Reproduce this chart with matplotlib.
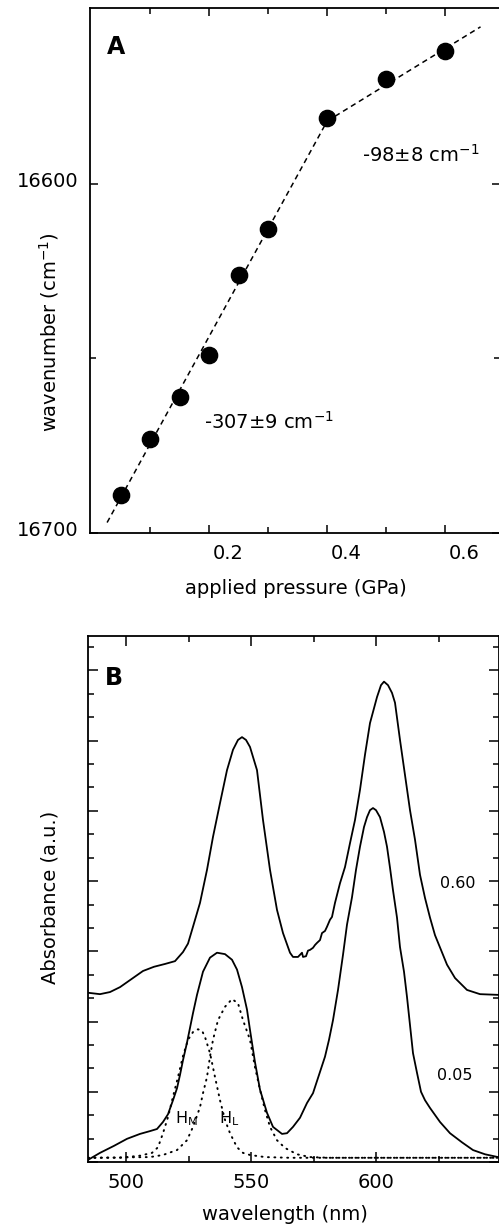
import matplotlib
matplotlib.use("Agg")
import matplotlib.pyplot as plt
import matplotlib.transforms as mtrans
from matplotlib.ticker import MultipleLocator, FixedLocator, NullFormatter

plt.rcParams['font.family'] = ['DejaVu Sans']
plt.rcParams['mathtext.fontset'] = 'dejavusans'

# ---------------- Panel A data ----------------
pressure = [0.05, 0.10, 0.15, 0.20, 0.25, 0.30, 0.40, 0.50, 0.60]
wavenumber = [16689, 16673, 16661, 16649, 16626, 16613, 16581, 16570, 16562]
fit1_p = [0.027, 0.40]
fit1_w = [16697, 16582]
fit2_p = [0.40, 0.66]
fit2_w = [16582, 16555]
a_xticks = [0.2, 0.4, 0.6]
a_xticklabels = ["0.2", "0.4", "0.6"]
a_yticks = [16600, 16700]
a_yticklabels = ["16600", "16700"]

# ---------------- Panel B data ----------------
wl_060 = [484.8, 489.6, 493.6, 497.6, 502.4, 506.8, 511.2, 515.6, 519.6, 522.8,
          524.8, 526.8, 529.6, 532.4, 534.8, 537.6, 540.4, 542.8, 544.8, 546.4,
          548.0, 549.6, 552.4, 554.8, 557.6, 560.4, 562.8, 565.6, 566.8, 568.8,
          570.4, 570.8, 572.0, 572.8, 573.6, 574.8, 575.6, 576.4, 577.6, 578.4,
          579.6, 580.4, 581.6, 582.4, 583.6, 585.6, 587.6, 589.6, 591.6, 593.6,
          595.6, 597.6, 600.4, 602.0, 603.2, 604.8, 606.4, 607.6, 609.6, 611.6,
          613.6, 615.6, 617.6, 619.6, 621.6, 623.6, 626.0, 628.4, 631.6, 636.4,
          641.6, 648.8]
abs_060 = [0.241, 0.239, 0.242, 0.249, 0.261, 0.272, 0.278, 0.282, 0.286, 0.299,
           0.311, 0.335, 0.369, 0.416, 0.463, 0.511, 0.558, 0.587, 0.601, 0.605,
           0.601, 0.591, 0.558, 0.487, 0.416, 0.359, 0.326, 0.298, 0.292, 0.292,
           0.298, 0.292, 0.293, 0.301, 0.302, 0.305, 0.309, 0.312, 0.316, 0.326,
           0.329, 0.335, 0.345, 0.349, 0.369, 0.397, 0.420, 0.454, 0.487, 0.530,
           0.580, 0.625, 0.662, 0.679, 0.684, 0.679, 0.668, 0.654, 0.601, 0.551,
           0.501, 0.459, 0.409, 0.376, 0.348, 0.323, 0.302, 0.281, 0.262, 0.245,
           0.239, 0.238]

wl_005 = [484.8, 489.6, 495.2, 500.4, 505.6, 509.6, 512.4, 514.8, 516.8, 518.8,
          520.4, 521.6, 522.8, 524.4, 525.6, 526.8, 528.4, 530.8, 533.6, 536.4,
          539.6, 542.4, 544.4, 546.4, 548.4, 549.6, 551.6, 553.6, 556.4, 558.8,
          562.4, 564.4, 566.8, 569.6, 572.4, 574.8, 577.2, 579.6, 581.2, 582.8,
          584.8, 586.8, 588.4, 590.4, 592.0, 593.6, 595.2, 596.4, 597.6, 598.8,
          600.0, 601.6, 603.2, 604.4, 605.6, 606.8, 608.4, 609.6, 611.2, 612.4,
          613.6, 614.8, 616.4, 618.0, 619.6, 621.6, 625.6, 629.6, 634.4, 638.8,
          643.6, 648.8]
abs_005 = [0.003, 0.013, 0.023, 0.033, 0.040, 0.044, 0.047, 0.057, 0.068, 0.088,
           0.105, 0.124, 0.145, 0.170, 0.191, 0.212, 0.238, 0.271, 0.291, 0.298,
           0.296, 0.288, 0.274, 0.249, 0.217, 0.188, 0.142, 0.103, 0.070, 0.050,
           0.040, 0.041, 0.050, 0.063, 0.084, 0.098, 0.124, 0.150, 0.174, 0.202,
           0.245, 0.295, 0.338, 0.377, 0.416, 0.449, 0.477, 0.491, 0.501, 0.504,
           0.501, 0.491, 0.470, 0.449, 0.419, 0.387, 0.348, 0.306, 0.271, 0.235,
           0.195, 0.155, 0.127, 0.100, 0.088, 0.077, 0.057, 0.041, 0.028, 0.017,
           0.011, 0.007]

wl_hm = [484.8, 497.6, 505.6, 510.4, 512.8, 514.8, 516.8, 518.8, 520.8, 522.8,
         524.8, 526.8, 528.8, 530.4, 531.6, 533.6, 535.6, 537.6, 539.6, 541.6,
         544.4, 546.8, 549.6, 555.6, 565.6, 648.8]
abs_hm = [0.006, 0.006, 0.009, 0.013, 0.021, 0.041, 0.064, 0.093, 0.121, 0.151,
          0.174, 0.185, 0.189, 0.187, 0.178, 0.155, 0.121, 0.088, 0.060, 0.041,
          0.021, 0.013, 0.010, 0.007, 0.006, 0.006]

wl_hl = [484.8, 509.6, 514.8, 520.4, 524.4, 526.8, 529.6, 530.8, 532.4, 533.6,
         534.8, 536.8, 539.6, 542.4, 544.8, 546.8, 549.6, 551.6, 553.6, 555.6,
         557.6, 560.4, 563.6, 568.4, 573.6, 581.6, 648.8]
abs_hl = [0.006, 0.007, 0.010, 0.017, 0.031, 0.050, 0.078, 0.098, 0.121, 0.150,
          0.174, 0.202, 0.221, 0.232, 0.226, 0.202, 0.174, 0.135, 0.103, 0.074,
          0.050, 0.031, 0.020, 0.011, 0.007, 0.006, 0.006]

b_xticks = [500, 550, 600]
b_xticklabels = ["500", "550", "600"]

# ---------------- Figure ----------------
W, H = 499, 1229
fig = plt.figure(figsize=(W / 100, H / 100), dpi=100)

def px2fig(x, y):
    return x / W, 1 - y / H

axA = fig.add_axes([90 / W, 1 - 533 / H, 410 / W, 525 / H])
axB = fig.add_axes([88 / W, 1 - 1162 / H, 410.5 / W, 526 / H])

FS = 14

# Panel A
axA.plot(fit1_p, fit1_w, color='black', lw=1.1, dashes=(3.5, 2.6))
axA.plot(fit2_p, fit2_w, color='black', lw=1.1, dashes=(3.5, 2.6))
axA.plot(pressure, wavenumber, 'o', color='black', ms=11.7, zorder=3)
axA.set_xlim(-0.002, 0.693)
axA.set_ylim(16700, 16549.6)
axA.xaxis.set_major_locator(FixedLocator(a_xticks))
axA.set_xticklabels(a_xticklabels)
axA.xaxis.set_minor_locator(FixedLocator([0.1, 0.3, 0.5]))
axA.yaxis.set_major_locator(FixedLocator(a_yticks))
axA.set_yticklabels(a_yticklabels)
axA.yaxis.set_minor_locator(FixedLocator([16650]))
axA.tick_params(which='both', direction='in', top=True, right=True, labelsize=FS,
                width=1.1)
axA.tick_params(which='major', length=6)
axA.tick_params(which='minor', length=4)
axA.tick_params(axis='x', pad=8)
axA.tick_params(axis='y', pad=8)
for lab in axA.get_xticklabels():
    lab.set_transform(lab.get_transform() +
                      mtrans.ScaledTranslation(0.19, 0, fig.dpi_scale_trans))
for lab in axA.get_yticklabels():
    lab.set_transform(lab.get_transform() +
                      mtrans.ScaledTranslation(0, 0.04, fig.dpi_scale_trans))
for s in axA.spines.values():
    s.set_linewidth(1.3)

axA.text(*px2fig(107, 47), "A", transform=fig.transFigure, fontsize=17,
         fontweight='bold', ha='left', va='center')
axA.text(*px2fig(362, 155), "-98\u00b18 cm$^{-1}$", transform=fig.transFigure,
         fontsize=FS, ha='left', va='center')
axA.text(*px2fig(204, 422), "-307\u00b19 cm$^{-1}$", transform=fig.transFigure,
         fontsize=FS, ha='left', va='center')
fig.text(*px2fig(49, 332), "wavenumber (cm$^{-1}$)", rotation=90, fontsize=FS,
         ha='center', va='center')
fig.text(*px2fig(296, 589), "applied pressure (GPa)", fontsize=FS,
         ha='center', va='center')

# Panel B
axB.plot(wl_060, abs_060, color='black', lw=1.3)
axB.plot(wl_005, abs_005, color='black', lw=1.3)
axB.plot(wl_hm, abs_hm, color='black', lw=1.4, dashes=(0.5, 2.8),
         dash_capstyle='round')
axB.plot(wl_hl, abs_hl, color='black', lw=1.4, dashes=(0.5, 2.8),
         dash_capstyle='round')
axB.set_xlim(484.8, 649)
axB.set_ylim(0, 0.749)
axB.xaxis.set_major_locator(FixedLocator(b_xticks))
axB.set_xticklabels(b_xticklabels)
axB.xaxis.set_minor_locator(MultipleLocator(25))
axB.yaxis.set_major_locator(MultipleLocator(0.1))
axB.yaxis.set_minor_locator(MultipleLocator(0.1 / 3))
axB.yaxis.set_major_formatter(NullFormatter())
axB.tick_params(which='both', direction='in', top=True, right=True, labelsize=FS,
                width=1.1)
axB.tick_params(which='major', length=7)
axB.tick_params(which='minor', length=4.5)
axB.tick_params(axis='x', pad=8)
for s in axB.spines.values():
    s.set_linewidth(1.3)

axB.text(*px2fig(105, 678), "B", transform=fig.transFigure, fontsize=17,
         fontweight='bold', ha='left', va='center')
axB.text(*px2fig(458, 883), "0.60", transform=fig.transFigure, fontsize=11.5,
         ha='center', va='center')
axB.text(*px2fig(455, 1075), "0.05", transform=fig.transFigure, fontsize=11.5,
         ha='center', va='center')
axB.text(*px2fig(175, 1119), r"H$_\mathrm{M}$", transform=fig.transFigure,
         fontsize=11.5, ha='left', va='center')
axB.text(*px2fig(219, 1119), r"H$_\mathrm{L}$", transform=fig.transFigure,
         fontsize=11.5, ha='left', va='center')
fig.text(*px2fig(50, 897), "Absorbance (a.u.)", rotation=90, fontsize=FS,
         ha='center', va='center')
fig.text(*px2fig(285, 1215), "wavelength (nm)", fontsize=FS,
         ha='center', va='center')

fig.savefig("out.png", dpi=100)
